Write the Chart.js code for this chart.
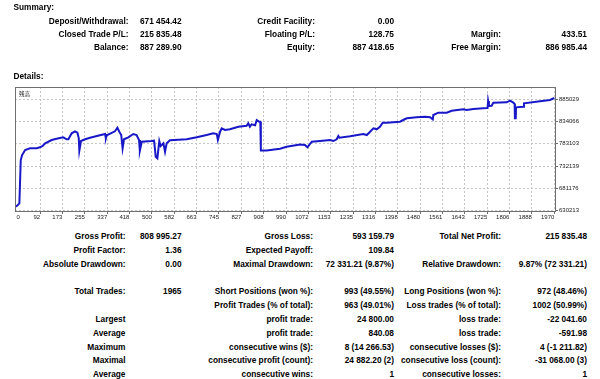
<!DOCTYPE html>
<html><head><meta charset="utf-8">
<script src="https://cdn.jsdelivr.net/npm/chart.js@4.4.0/dist/chart.umd.min.js"></script>
<style>
html,body{margin:0;padding:0;background:#fff;width:600px;height:379px;overflow:hidden;}
#wrap{position:relative;width:600px;height:379px;font-family:"Liberation Sans",Arial,sans-serif;font-weight:bold;font-size:8.3px;color:#000;}
.t{position:absolute;white-space:nowrap;line-height:10px;height:10px;}
#c{position:absolute;left:0;top:80px;}
#cap{position:absolute;left:19px;top:91px;font-family:"Noto Sans CJK JP",sans-serif;font-size:5.5px;line-height:6px;font-weight:normal;color:#222;}
</style></head>
<body><div id="wrap"><canvas id="c" width="600" height="145"></canvas><div id="cap">残高</div></div>
<script>
// ---- chart data ----
const tradeIndex = [0, 8, 16, 21, 26, 37, 55, 79, 91, 101,
  110, 134, 152, 176, 189, 195, 207, 219, 228, 233,
  235, 237, 241, 256, 274, 310, 329, 332, 335, 365,
  374, 381, 388, 393, 398, 414, 432, 444, 453, 456,
  463, 499, 508, 514, 520, 527, 532, 542, 548, 554,
  566, 627, 664, 700, 724, 737, 741, 749, 755, 767,
  785, 816, 846, 852, 858, 864, 877, 883, 892, 896,
  898, 919, 968, 992, 1041, 1059, 1068, 1084, 1114, 1151,
  1163, 1175, 1181, 1185, 1224, 1272, 1285, 1297, 1309, 1321,
  1333, 1343, 1358, 1406, 1418, 1431, 1467, 1498, 1516, 1526,
  1528, 1546, 1577, 1595, 1637, 1650, 1674, 1723, 1726, 1728,
  1731, 1741, 1747, 1796, 1808, 1820, 1825, 1826, 1829, 1830,
  1857, 1859, 1918, 1954, 1970];
const balance = [639300, 641500, 647000, 745800, 757200, 768600, 772500, 772800, 774800, 777800,
  783900, 791500, 794400, 797600, 793100, 793100, 806800, 811300, 808100, 795300,
  767000, 767000, 789200, 793100, 796700, 802200, 805200, 795300, 802200, 811300,
  819500, 810400, 802900, 772500, 793100, 797600, 805200, 802900, 791500, 767000,
  787600, 789200, 789900, 753400, 749700, 789200, 777800, 783900, 764800, 783900,
  790800, 793100, 797600, 802900, 806800, 805200, 791500, 810400, 818200, 814300,
  815900, 821800, 824100, 829600, 821800, 827300, 825000, 837100, 833200, 833200,
  767500, 767500, 771600, 776200, 781200, 780100, 774800, 787600, 789200, 791500,
  789200, 793100, 800600, 796700, 799900, 805200, 802900, 810400, 818200, 815900,
  821800, 830900, 830900, 833200, 837100, 841000, 843300, 844600, 843300, 838700,
  848500, 853800, 853800, 858300, 861500, 859900, 862200, 864500, 864500, 880500,
  869100, 869700, 876600, 877500, 881200, 877000, 873600, 841000, 841000, 866100,
  867500, 875200, 879800, 882700, 887290];
const xTickValues = [0, 92, 173, 255, 337, 418, 500, 582, 663, 745, 827, 908, 990, 1072,
  1153, 1235, 1316, 1398, 1480, 1561, 1643, 1725, 1806, 1888, 1970];
const yTickValues = [630213, 681176, 732139, 783103, 834066, 885029];
const seriesCaption = "残高";

// ---- report text ----
const summaryRows = [
  ["Deposit/Withdrawal:", "671 454.42", "Credit Facility:", "0.00", "", ""],
  ["Closed Trade P/L:", "215 835.48", "Floating P/L:", "128.75", "Margin:", "433.51"],
  ["Balance:", "887 289.90", "Equity:", "887 418.65", "Free Margin:", "886 985.44"]
];
const detailRows = [
  ["Gross Profit:", "808 995.27", "Gross Loss:", "593 159.79", "Total Net Profit:", "215 835.48"],
  ["Profit Factor:", "1.36", "Expected Payoff:", "109.84", "", ""],
  ["Absolute Drawdown:", "0.00", "Maximal Drawdown:", "72 331.21 (9.87%)", "Relative Drawdown:", "9.87% (72 331.21)"],
  ["Total Trades:", "1965", "Short Positions (won %):", "993 (49.55%)", "Long Positions (won %):", "972 (48.46%)"],
  ["", "", "Profit Trades (% of total):", "963 (49.01%)", "Loss trades (% of total):", "1002 (50.99%)"],
  ["Largest", "", "profit trade:", "24 800.00", "loss trade:", "-22 041.60"],
  ["Average", "", "profit trade:", "840.08", "loss trade:", "-591.98"],
  ["Maximum", "", "consecutive wins ($):", "8 (14 266.53)", "consecutive losses ($):", "4 (-1 211.82)"],
  ["Maximal", "", "consecutive profit (count):", "24 882.20 (2)", "consecutive loss (count):", "-31 068.00 (3)"],
  ["Average", "", "consecutive wins:", "1", "consecutive losses:", "1"]
];

// ---- layout ----
const summaryY = [21, 34, 47];
const detailY = [236, 250, 264, 291, 305, 319, 333, 346.5, 360, 374];
const summaryColRight = [128.5, 181.5, 315, 394, 501, 587];
const detailColRight = [125.5, 181.5, 313, 394, 501, 587];

const wrap = document.getElementById('wrap');
function addText(txt, x, yc, alignRight) {
  if (!txt) return;
  const d = document.createElement('div');
  d.className = 't';
  d.textContent = txt;
  if (alignRight) d.style.right = (600 - x) + 'px'; else d.style.left = x + 'px';
  d.style.top = (yc - 5) + 'px';
  wrap.appendChild(d);
}
addText("Summary:", 13.5, 6.5, false);
addText("Details:", 13.5, 75.5, false);
summaryRows.forEach((r, i) => r.forEach((s, j) => addText(s, summaryColRight[j], summaryY[i], true)));
detailRows.forEach((r, i) => r.forEach((s, j) => addText(s, detailColRight[j], detailY[i], true)));
document.getElementById('cap').textContent = seriesCaption;

// ---- chart ----
const frame = {
  id: 'frame',
  afterDraw(chart) {
    const a = chart.chartArea, c = chart.ctx;
    c.save();
    c.strokeStyle = '#707070';
    c.lineWidth = 1;
    c.strokeRect(a.left + 0.5, a.top + 0.5, a.right - a.left - 1, a.bottom - a.top - 1);
    c.restore();
  }
};
const zeroLabel = {
  id: 'zeroLabel',
  afterLayout(chart) {
    try {
      const s = chart.scales.x;
      const items = s.getLabelItems();
      items.forEach(it => {
        if (it.label === '0' && it.options && it.options.translation) {
          it.options.textAlign = 'left';
          it.options.translation[0] += 1.5;
        }
      });
    } catch (e) {}
  }
};
const gridCol = '#c4c4c4';
new Chart(document.getElementById('c'), {
  type: 'line',
  data: {
    datasets: [{
      data: tradeIndex.map((x, i) => ({ x: x, y: balance[i] })),
      borderColor: '#1818c8',
      borderWidth: 2,
      pointRadius: 0,
      tension: 0,
      fill: false
    }]
  },
  options: {
    responsive: false,
    animation: false,
    devicePixelRatio: 1,
    layout: { padding: { left: 15, right: 0, top: 7, bottom: 0 } },
    plugins: { legend: { display: false }, tooltip: { enabled: false }, title: { display: false } },
    scales: {
      x: {
        type: 'linear', position: 'bottom', min: 0, max: 1976,
        afterBuildTicks: s => { s.ticks = xTickValues.map(v => ({ value: v })); },
        afterFit: s => { s.height = 13; },
        ticks: {
          autoSkip: false, maxRotation: 0, minRotation: 0, align: 'end', padding: 0,
          font: { family: 'Liberation Sans', size: 6 }, color: '#222',
          callback: v => String(v)
        },
        grid: {
          color: c => (c.tick && c.tick.value === 0) ? 'rgba(0,0,0,0)' : gridCol,
          tickColor: c => (c.tick && c.tick.value === 0) ? 'rgba(0,0,0,0)' : '#707070',
          lineWidth: 1, drawTicks: true, tickLength: 2, tickBorderDash: []
        },
        border: { display: false, dash: [2, 2] }
      },
      y: {
        type: 'linear', position: 'right', min: 627300, max: 912400,
        afterBuildTicks: s => { s.ticks = yTickValues.map(v => ({ value: v })); },
        afterFit: s => { s.width = 44; },
        ticks: {
          autoSkip: false, padding: 1,
          font: { family: 'Liberation Sans', size: 6 }, color: '#222',
          callback: v => String(v)
        },
        grid: { color: gridCol, tickColor: '#707070', lineWidth: 1, drawTicks: true, tickLength: 2, tickBorderDash: [] },
        border: { display: false, dash: [2, 2] }
      }
    }
  },
  plugins: [frame, zeroLabel]
});
</script>
</body></html>
